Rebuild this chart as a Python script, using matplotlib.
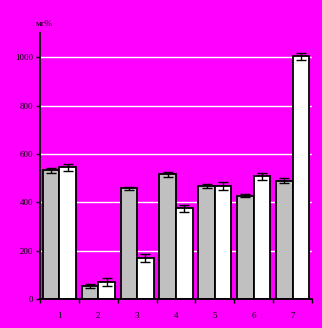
import matplotlib

matplotlib.use("Agg")

import matplotlib.pyplot as plt
import numpy as np

CATEGORIES = ["1", "2", "3", "4", "5", "6", "7"]
GRAY_VALS = [533, 54, 457, 516, 467, 428, 490]
GRAY_ERR = [10, 10, 8, 11, 10, 8, 10]
WHITE_VALS = [544, 70, 168, 375, 467, 507, 1004]
WHITE_ERR = [14, 17, 17, 14, 17, 15, 14]
Y_TICKS = [0, 200, 400, 600, 800, 1000]

BG = "#ff00ff"
FONT = "Liberation Serif"

fig = plt.figure(figsize=(3.22, 3.28), dpi=100, facecolor=BG)
ax = fig.add_axes([40 / 322, 29 / 328, 272 / 322, 266 / 328])
ax.set_facecolor(BG)

x = np.arange(len(CATEGORIES))
w = 0.425
err_kw = dict(ecolor="black", elinewidth=1.0, capsize=3.5, capthick=1.0)
ax.bar(x - w / 2, GRAY_VALS, w, yerr=GRAY_ERR, color="#c0c0c0",
       edgecolor="black", linewidth=1.3, error_kw=err_kw, zorder=3)
ax.bar(x + w / 2, WHITE_VALS, w, yerr=WHITE_ERR, color="white",
       edgecolor="black", linewidth=1.3, error_kw=err_kw, zorder=3)

for yv in Y_TICKS[1:]:
    ax.axhline(yv, color="white", lw=1.0, zorder=1)

ax.set_xlim(-0.5, len(CATEGORIES) - 0.5)
ax.set_ylim(0, 1100)
ax.set_yticks(Y_TICKS)
ax.set_yticklabels([str(v) for v in Y_TICKS], fontsize=6.5, family=FONT)
ax.set_xticks(x)
ax.set_xticklabels(CATEGORIES, fontsize=6.5, family=FONT)
ax.set_xticks(np.arange(len(CATEGORIES) + 1) - 0.5, minor=True)
ax.tick_params(axis="x", which="major", length=0, pad=9)
ax.tick_params(axis="x", which="minor", length=3, width=1.0, direction="out")
ax.tick_params(axis="y", length=3, width=1.0, direction="out", pad=2)

for side in ("top", "right"):
    ax.spines[side].set_visible(False)
for side in ("left", "bottom"):
    ax.spines[side].set_linewidth(1.3)
    ax.spines[side].set_zorder(4)

fig.text(36 / 322, 1 - 24 / 328, "мг%", fontsize=6.5, family=FONT,
         ha="left", va="center")

fig.savefig("out.png", dpi=100, facecolor=BG)
